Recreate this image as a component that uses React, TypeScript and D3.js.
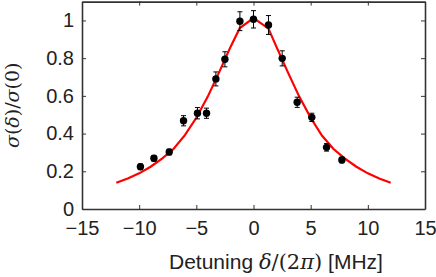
import React, { useEffect, useRef } from "react";
import * as d3 from "d3";

// measured points: detuning (MHz), normalised cross section, error
const detuning = [-9.89, -8.71, -7.37, -6.12, -4.9, -4.11, -3.29, -2.5, -1.19, 0, 1.31, 2.51, 3.82, 5.1, 6.39, 7.73];
const sigma = [0.224, 0.269, 0.302, 0.468, 0.508, 0.508, 0.69, 0.794, 0.996, 1.006, 0.976, 0.799, 0.566, 0.486, 0.327, 0.26];
const sigmaErr = [0.015, 0.015, 0.015, 0.027, 0.03, 0.027, 0.037, 0.04, 0.05, 0.046, 0.05, 0.04, 0.027, 0.022, 0.02, 0.015];

// fitted curve
const fitX = [-12, -11, -10, -9, -8, -7, -6, -5, -4, -3, -2, -1.2, 0, 1.3, 2, 3, 4, 5, 6, 7, 8, 9, 10, 11, 12];
const fitY = [0.139, 0.162, 0.189, 0.224, 0.267, 0.318, 0.392, 0.484, 0.596, 0.726, 0.861, 0.96, 1.012, 0.958, 0.861, 0.726, 0.596, 0.484, 0.388, 0.318, 0.267, 0.224, 0.189, 0.162, 0.139];

const xTicks = [-15, -10, -5, 0, 5, 10, 15];
const yTicks = [0, 0.2, 0.4, 0.6, 0.8, 1];

const W = 436, H = 277;
const margin = { top: 1.6, right: 11, bottom: 68, left: 82 };

export default function App() {
  const ref = useRef<SVGSVGElement>(null);

  useEffect(() => {
    const svg = d3.select(ref.current);
    svg.selectAll("*").remove();

    const iw = W - margin.left - margin.right;
    const ih = H - margin.top - margin.bottom;

    const x = d3.scaleLinear().domain([-15, 15]).range([0, iw]);
    const y = d3.scaleLinear().domain([0, 1.1]).range([ih, 0]);

    const g = svg.append("g").attr("transform", `translate(${margin.left},${margin.top})`);
    const font = "'Liberation Sans', Arial, sans-serif";
    const mathFont = "'DejaVu Serif', 'Liberation Serif', serif";
    const axisColor = "#333";

    // fit curve
    const line = d3.line<number>()
      .x((_, i) => x(fitX[i]))
      .y(d => y(d));
    g.append("path")
      .datum(fitY)
      .attr("d", line)
      .attr("fill", "none")
      .attr("stroke", "#ff0000")
      .attr("stroke-width", 2.2);

    // error bars + markers
    const pts = g.selectAll(".pt")
      .data(detuning)
      .enter().append("g");
    pts.append("line")
      .attr("x1", d => x(d)).attr("x2", d => x(d))
      .attr("y1", (_, i) => y(sigma[i] - sigmaErr[i]))
      .attr("y2", (_, i) => y(sigma[i] + sigmaErr[i]))
      .attr("stroke", "#000").attr("stroke-width", 1);
    [1, -1].forEach(s => {
      pts.append("line")
        .attr("x1", d => x(d) - 2.5).attr("x2", d => x(d) + 2.5)
        .attr("y1", (_, i) => y(sigma[i] + s * sigmaErr[i]))
        .attr("y2", (_, i) => y(sigma[i] + s * sigmaErr[i]))
        .attr("stroke", "#000").attr("stroke-width", 1);
    });
    pts.append("circle")
      .attr("cx", d => x(d))
      .attr("cy", (_, i) => y(sigma[i]))
      .attr("r", 3.7)
      .attr("fill", "#000");

    // axes box with inward ticks
    const bottom = g.append("g").attr("transform", `translate(0,${ih})`)
      .call(d3.axisBottom(x).tickValues(xTicks).tickSizeInner(-4).tickSizeOuter(0).tickPadding(12).tickFormat(d3.format("d")));
    const left = g.append("g")
      .call(d3.axisLeft(y).tickValues(yTicks).tickSizeInner(-4).tickSizeOuter(0).tickPadding(8).tickFormat(d => String(+d)));
    const top = g.append("g")
      .call(d3.axisTop(x).tickValues(xTicks).tickSizeInner(-4).tickSizeOuter(0).tickFormat(() => ""));
    const right = g.append("g").attr("transform", `translate(${iw},0)`)
      .call(d3.axisRight(y).tickValues(yTicks).tickSizeInner(-4).tickSizeOuter(0).tickFormat(() => ""));

    [bottom, left, top, right].forEach(a => {
      a.select(".domain").attr("stroke", axisColor).attr("stroke-width", 1.6);
      a.selectAll(".tick line").attr("stroke", axisColor).attr("stroke-width", 1);
      a.selectAll("text").attr("font-family", font).attr("font-size", 20).attr("fill", "#222");
    });
    bottom.selectAll("text").attr("dy", "0.72em");

    // axis titles
    const xt = g.append("text")
      .attr("x", 169 - margin.left)
      .attr("y", ih + 60)
      .attr("text-anchor", "start")
      .attr("font-family", font)
      .attr("font-size", 21)
      .attr("fill", "#222");
    xt.append("tspan").text("Detuning ");
    xt.append("tspan").attr("font-family", mathFont).attr("font-style", "italic").text("δ");
    xt.append("tspan").attr("font-family", mathFont).text("/(2");
    xt.append("tspan").attr("font-family", mathFont).attr("font-style", "italic").text("π");
    xt.append("tspan").attr("font-family", mathFont).text(")");
    xt.append("tspan").text(" [MHz]");

    const yt = svg.append("text")
      .attr("transform", `translate(18.5,${margin.top + ih / 2}) rotate(-90)`)
      .attr("text-anchor", "middle")
      .attr("font-family", mathFont)
      .attr("font-size", 19)
      .attr("fill", "#222");
    yt.append("tspan").attr("font-style", "italic").text("σ");
    yt.append("tspan").text("(");
    yt.append("tspan").attr("font-style", "italic").text("δ");
    yt.append("tspan").text(")/");
    yt.append("tspan").attr("font-style", "italic").text("σ");
    yt.append("tspan").text("(0)");
  }, []);

  return (
    <svg ref={ref} width={W} height={H}
      style={{ position: "absolute", left: 0, top: 0, background: "#fff" }} />
  );
}
